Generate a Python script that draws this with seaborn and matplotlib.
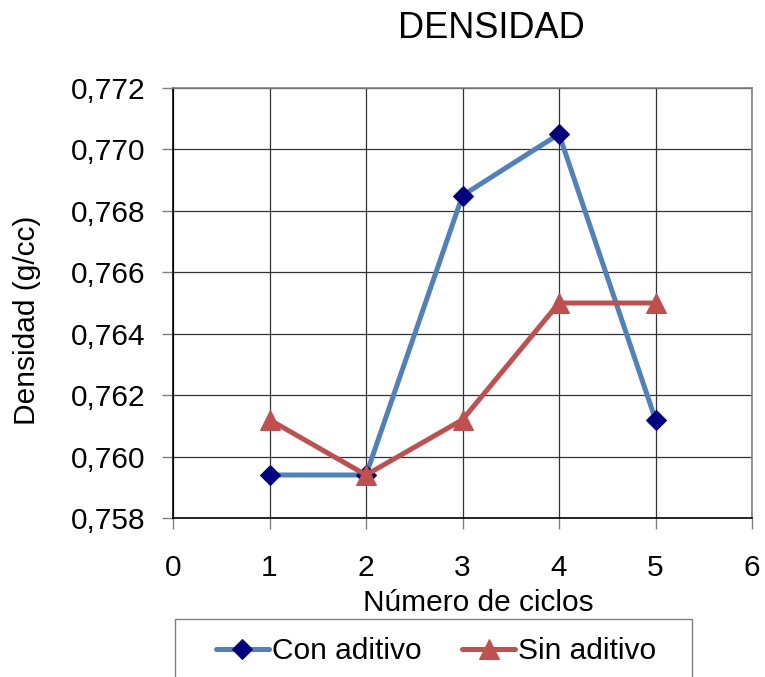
import numpy as np
import pandas as pd
import matplotlib
matplotlib.use("Agg")
import matplotlib.pyplot as plt
from matplotlib.ticker import FuncFormatter, MultipleLocator
from matplotlib.patches import Rectangle
import seaborn as sns

ciclos = [1, 2, 3, 4, 5]
con_aditivo = [0.7594, 0.7594, 0.7685, 0.7705, 0.7612]
sin_aditivo = [0.7612, 0.7594, 0.7612, 0.7650, 0.7650]

sns.set_style("white")
plt.rcParams['font.family'] = ['Liberation Sans', 'DejaVu Sans']
plt.rcParams['text.color'] = 'black'
plt.rcParams['axes.labelcolor'] = 'black'
plt.rcParams['xtick.color'] = 'black'
plt.rcParams['ytick.color'] = 'black'

W, H = 765, 677
fig = plt.figure(figsize=(W / 100, H / 100), dpi=100)
ax = fig.add_axes([173 / W, 1 - 518 / H, (752 - 173) / W, (518 - 88) / H])

sns.lineplot(x=ciclos, y=con_aditivo, ax=ax, color="#4F81BD", linewidth=3.6,
             marker="D", markersize=10, markerfacecolor="#000080",
             markeredgecolor="#000080", label="Con aditivo", legend=False)
sns.lineplot(x=ciclos, y=sin_aditivo, ax=ax, color="#C0504D", linewidth=3.6,
             marker="^", markersize=14, markerfacecolor="#C0504D",
             markeredgecolor="#C0504D", label="Sin aditivo", legend=False)

ax.set_xlim(0, 6)
ax.set_ylim(0.758, 0.772)
ax.xaxis.set_major_locator(MultipleLocator(1))
ax.yaxis.set_major_locator(MultipleLocator(0.002))
ax.yaxis.set_major_formatter(FuncFormatter(lambda v, p: f"{v:.3f}".replace(".", ",")))
ax.grid(True, color="#333333", linewidth=0.9)
ax.set_axisbelow(True)
for side in ["left", "bottom"]:
    ax.spines[side].set_color("black")
    ax.spines[side].set_linewidth(1.2)
for side in ["top", "right"]:
    ax.spines[side].set_color("#808080")
    ax.spines[side].set_linewidth(1.2)
ax.tick_params(axis="both", direction="out", length=8, width=1,
               labelsize=21.5, left=True, bottom=True)
ax.tick_params(axis="both", color="#808080", labelcolor="black")
ax.tick_params(axis="y", pad=12)
ax.tick_params(axis="x", pad=18)

ax.set_xlabel("Número de ciclos", fontsize=21.5)
ax.set_ylabel("Densidad (g/cc)", fontsize=21.5)
ax.xaxis.set_label_coords(0.528, -0.165)
ax.yaxis.set_label_coords(-0.228, 0.46)

fig.text(491 / W, 1 - 28 / H, "DENSIDAD", fontsize=26, ha="center", va="center")

# legend box at the bottom (cut off by the figure edge, like the original)
fig.patches.append(Rectangle((175 / W, -0.05), (692 - 175) / W, (0.05 + 1 - 619 / H),
                             transform=fig.transFigure, fill=False,
                             edgecolor="#808080", linewidth=1.0))
handles, labels = ax.get_legend_handles_labels()
fig.legend(handles, labels, loc="center", bbox_to_anchor=(436 / W, 1 - 651 / H),
           ncol=2, frameon=False, fontsize=21.5, handlelength=1.77,
           handletextpad=0.1, columnspacing=1.37)

fig.savefig("out.png", dpi=100)
